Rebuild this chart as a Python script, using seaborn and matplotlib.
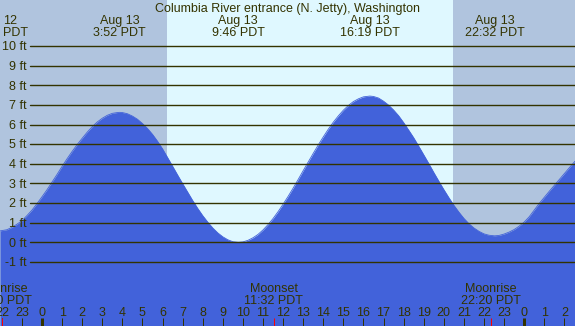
import matplotlib
matplotlib.use("Agg")
import matplotlib.pyplot as plt
import matplotlib.transforms as mtransforms
import seaborn as sns

# ---- data ----
title = "Columbia River entrance (N. Jetty), Washington"
# tide curve: hours since 00:00 Aug 13, height in ft
hours = [-2.09, -1.75, -1.5, -1.25, -1.0, -0.75, -0.5, -0.25, 0.0, 0.25, 0.5,
         0.75, 1.0, 1.25, 1.5, 1.75, 2.0, 2.25, 2.5, 2.75, 3.0, 3.25, 3.5,
         3.75, 3.87, 4.0, 4.25, 4.5, 4.75, 5.0, 5.25, 5.5, 5.75, 6.0, 6.25,
         6.5, 6.75, 7.0, 7.25, 7.5, 7.75, 8.0, 8.25, 8.5, 8.75, 9.0, 9.25,
         9.5, 9.77, 10.0, 10.25, 10.5, 10.75, 11.0, 11.25, 11.5, 11.75, 12.0,
         12.25, 12.5, 12.75, 13.0, 13.25, 13.5, 13.75, 14.0, 14.25, 14.5,
         14.75, 15.0, 15.25, 15.5, 15.75, 16.0, 16.32, 16.5, 16.75, 17.0,
         17.25, 17.5, 17.75, 18.0, 18.25, 18.5, 18.75, 19.0, 19.25, 19.5,
         19.75, 20.0, 20.25, 20.5, 20.75, 21.0, 21.25, 21.5, 21.75, 22.0,
         22.25, 22.53, 22.75, 23.0, 23.25, 23.5, 23.75, 24.0, 24.25, 24.5,
         24.75, 25.0, 25.25, 25.5, 25.75, 26.0, 26.25, 26.53]
heights = [0.58, 0.64, 0.76, 0.92, 1.10, 1.36, 1.64, 1.97, 2.32, 2.68, 3.07,
           3.46, 3.87, 4.26, 4.63, 4.98, 5.30, 5.61, 5.89, 6.13, 6.32, 6.47,
           6.57, 6.61, 6.62, 6.61, 6.55, 6.43, 6.27, 6.05, 5.80, 5.50, 5.15,
           4.76, 4.32, 3.88, 3.43, 2.99, 2.56, 2.13, 1.73, 1.36, 1.03, 0.73,
           0.48, 0.28, 0.13, 0.03, 0.0, 0.02, 0.10, 0.23, 0.40, 0.63, 0.90,
           1.21, 1.56, 1.94, 2.34, 2.76, 3.20, 3.65, 4.09, 4.53, 4.96, 5.37,
           5.76, 6.12, 6.44, 6.73, 6.97, 7.17, 7.31, 7.41, 7.45, 7.43, 7.35,
           7.19, 6.99, 6.74, 6.45, 6.10, 5.72, 5.33, 4.90, 4.46, 4.02, 3.56,
           3.12, 2.69, 2.28, 1.89, 1.54, 1.22, 0.95, 0.73, 0.56, 0.43, 0.36,
           0.33, 0.35, 0.42, 0.52, 0.65, 0.82, 1.03, 1.30, 1.64, 1.98, 2.29,
           2.60, 2.90, 3.20, 3.50, 3.80, 4.13]
# tide extremes labels
event_hours = [3.867, 9.767, 16.317, 22.533]
event_labels = ["Aug 13\n3:52 PDT", "Aug 13\n9:46 PDT", "Aug 13\n16:19 PDT", "Aug 13\n22:32 PDT"]
# moon events
moon_hours = [-2.0, 11.533, 22.333]
moon_labels = ["Moonrise\n22:00 PDT", "Moonset\n11:32 PDT", "Moonrise\n22:20 PDT"]
# daylight
sunrise, sunset = 6.21, 20.46
ft_levels = list(range(-1, 11))
hour_ticks = list(range(-2, 27))

# ---- styling ----
W, H = 575, 326
night = "#B0C4DE"
day = "#DFF8FF"
tide_col = "#4262DA"
ink = "#333300"
FONT = "Liberation Sans"
FS = 9

sns.set_theme(style="white")
plt.rcParams["font.family"] = [FONT, "DejaVu Sans"]

fig = plt.figure(figsize=(W / 100, H / 100), dpi=100)
ax = fig.add_axes([0, 0, 1, 1])
x0 = -42 / 20.09
x1 = (W - 42) / 20.09
y0 = (242.3 - H) / 19.63
y1 = 242.3 / 19.63
ax.set_xlim(x0, x1)
ax.set_ylim(y0, y1)
ax.set_axis_off()

ax.axvspan(x0, sunrise, color=night, lw=0, zorder=0)
ax.axvspan(sunrise, sunset, color=day, lw=0, zorder=0)
ax.axvspan(sunset, x1, color=night, lw=0, zorder=0)

ax.fill_between(hours, heights, y0, color=tide_col, lw=0, zorder=1)
sns.lineplot(x=hours, y=heights, ax=ax, color=tide_col, lw=0.6,
             estimator=None, sort=False, zorder=2)

def fy(py):
    return 1 - py / H

for lv in ft_levels:
    ax.axhline(lv, xmin=29.5 / W, xmax=1, color=ink, lw=1.0, zorder=3)
    ax.annotate(f"{lv} ft", xy=(26.5 / W, lv), xycoords=("axes fraction", "data"),
                xytext=(0, -4.3 * 0.72), textcoords="offset points",
                ha="right", va="baseline", fontsize=FS, color=ink, zorder=4)

# title and top labels
fig.text(0.5, fy(12), title, ha="center", va="baseline", fontsize=FS, color=ink)
bt = mtransforms.blended_transform_factory(ax.transData, fig.transFigure)
for h, lab in zip(event_hours, event_labels):
    l1, l2 = lab.split("\n")
    ax.text(h, fy(24), l1, transform=bt, ha="center", va="baseline", fontsize=FS, color=ink)
    ax.text(h, fy(36), l2, transform=bt, ha="center", va="baseline", fontsize=FS, color=ink)
# partially visible previous label at the left edge
fig.text(2.7 / W, fy(24), "12", ha="left", va="baseline", fontsize=FS, color=ink)
fig.text(2.7 / W, fy(36), "PDT", ha="left", va="baseline", fontsize=FS, color=ink)

# moon labels
for h, lab in zip(moon_hours, moon_labels):
    l1, l2 = lab.split("\n")
    ax.text(h, fy(291.7), l1, transform=bt, ha="center", va="baseline", fontsize=FS, color=ink)
    ax.text(h, fy(304), l2, transform=bt, ha="center", va="baseline", fontsize=FS, color=ink)

# hour labels & ticks
for h in hour_ticks:
    ax.text(h, fy(315.7), str(h % 24), transform=bt, ha="center", va="baseline",
            fontsize=FS, color=ink)
    lw = 3.0 if h % 24 == 0 else 1.0
    ax.plot([h, h], [fy(326), fy(318)], transform=bt, color=ink, lw=lw * 0.72,
            solid_capstyle="butt", zorder=5)
for h in moon_hours:
    ax.plot([h, h], [fy(326), fy(318)], transform=bt, color="red", lw=0.72,
            solid_capstyle="butt", zorder=6)

fig.savefig("out.png", dpi=100)
